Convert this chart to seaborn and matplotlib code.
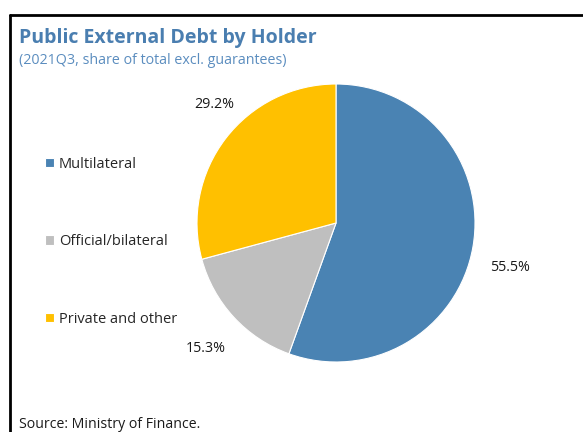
import numpy as np
import seaborn as sns
from matplotlib import pyplot as plt
from matplotlib.lines import Line2D

holders = ['Multilateral', 'Official/bilateral', 'Private and other']
shares = [55.5, 15.3, 29.2]
colors = ['#4A83B3', '#BFBFBF', '#FFC000']

sns.set_theme(style='white')
plt.rcParams['font.family'] = ['Open Sans', 'DejaVu Sans']

fig = plt.figure(figsize=(5.83, 4.32), dpi=100)

# frame around the chart (runs off right and bottom edges)
fig.add_artist(Line2D([10 / 583, 10 / 583], [1 - 15 / 432, -0.05], color='black', lw=2))
fig.add_artist(Line2D([10 / 583, 1.05], [1 - 15 / 432, 1 - 15 / 432], color='black', lw=2))

fig.text(19 / 583, 1 - 38 / 432, 'Public External Debt by Holder', color='#4A7EB0',
         fontsize=14, fontweight='bold', va='center', ha='left')
fig.text(19 / 583, 1 - 61 / 432, '(2021Q3, share of total excl. guarantees)', color='#5B8DBF',
         fontsize=10.3, va='center', ha='left')
fig.text(19 / 583, 1 - 424 / 432, 'Source: Ministry of Finance.', color='#1a1a1a',
         fontsize=10.2, va='center', ha='left')

cx, cy, r = 336, 223, 139
ax = fig.add_axes([(cx - r) / 583, (432 - cy - r) / 432, 2 * r / 583, 2 * r / 432])
wedges, texts, autotexts = ax.pie(shares, colors=colors, startangle=90, counterclock=False,
                                  autopct='%1.1f%%', pctdistance=1.27,
                                  wedgeprops=dict(linewidth=0.8, edgecolor='white'),
                                  textprops=dict(fontsize=10.3, color='#1a1a1a'))
ax.set_aspect('equal')
ax.set_xlim(-1, 1)
ax.set_ylim(-1, 1)
# nudge labels to where they sit in the original
x, y = autotexts[0].get_position()
autotexts[0].set_position((x, y - 0.1))
x, y = autotexts[2].get_position()
autotexts[2].set_position((x + 0.13, y + 0.08))
x, y = autotexts[1].get_position()
autotexts[1].set_position((x, y - 0.04))

leg = fig.legend(wedges, holders, loc='upper left', bbox_to_anchor=(39 / 583, 1 - 151 / 432),
                 frameon=False, fontsize=10.5, handlelength=0.6, handleheight=0.6,
                 handletextpad=0.35, labelspacing=4.28, borderaxespad=0)

fig.savefig('out.png', dpi=100)
